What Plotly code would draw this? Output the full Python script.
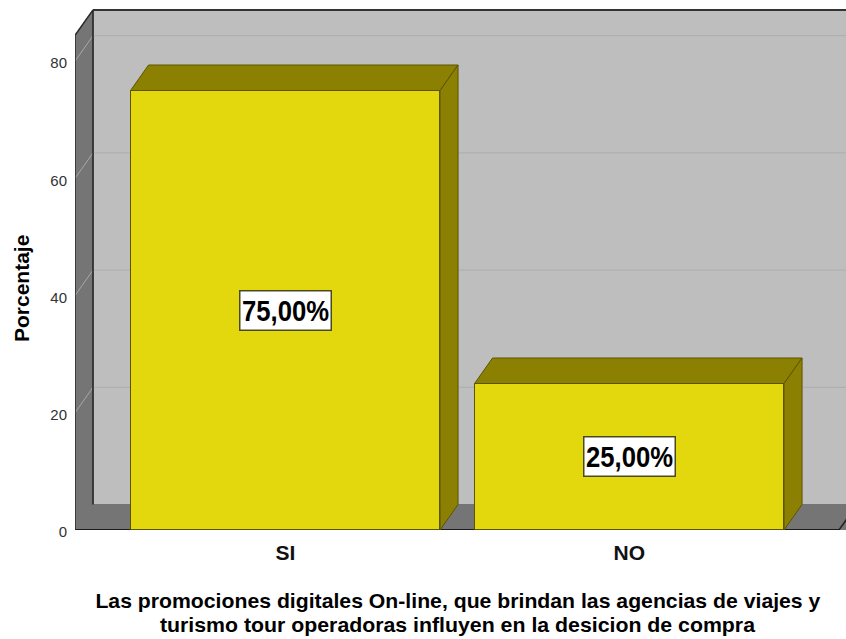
import plotly.graph_objects as go

categories = ["SI", "NO"]
values = [75.0, 25.0]
y_ticks = [0, 20, 40, 60, 80]
x_title_lines = [
    "Las promociones digitales On-line, que brindan las agencias de viajes y",
    "turismo tour operadoras influyen en la desicion de compra",
]
y_title = "Porcentaje"

PX_X = 344.0   # px per category step
PX_Y = 5.86    # px per percentage point
DX = 18 / PX_X
DY = 25.5 / PX_Y
WIDTH = 309.5 / PX_X
CENTER = 285.3
X0 = (75 - CENTER) / PX_X
X1 = (846 - CENTER) / PX_X
XFLOOR = (839 - CENTER) / PX_X
YTOP = 84.4
YMAX = 530 / PX_Y
FONT = "Liberation Sans, Arial, sans-serif"

FRONT = "#e3d70d"
SIDE = "#8c8003"
EDGE = "#5c5400"
WALL = "#757575"
BACK = "#bebebe"
GRID = "#adadad"
xs = list(range(len(categories)))

def poly(px, py, fill, line=None, lw=1, layer="below"):
    path = "M " + " L ".join(f"{a},{b}" for a, b in zip(px, py)) + " Z"
    return dict(type="path", path=path, xref="x", yref="y", fillcolor=fill, layer=layer,
                line=dict(color=line or fill, width=lw))

def seg(x_a, y_a, x_b, y_b, color, w=1, layer="below"):
    return dict(type="line", x0=x_a, y0=y_a, x1=x_b, y1=y_b, xref="x", yref="y", layer=layer,
                line=dict(color=color, width=w))

shapes = [
    poly([X0 + DX, X1 + 1, X1 + 1, X0 + DX], [DY, DY, YTOP + DY, YTOP + DY], BACK),
    poly([X0, X0 + DX, X0 + DX, X0], [0, DY, YTOP + DY, YTOP], WALL),
    poly([X0, X0 + DX, X1 + 1, XFLOOR], [0, DY, DY, 0], WALL),
]
for t in y_ticks[1:]:
    shapes.append(seg(X0 + DX, t + DY, X1, t + DY, GRID))
    shapes.append(seg(X0, t, X0 + DX, t + DY, "#a8a8a8"))
shapes += [
    seg(X0, 0, XFLOOR, 0, "#1c1c1c", 2),
    seg(X0, 0, X0, YTOP, "#2a2a2a", 1.5),
    seg(X0, YTOP, X0 + DX, YTOP + DY, "#2a2a2a", 1.5),
    seg(X0 + DX, DY, X0 + DX, YTOP + DY, "#222222", 1.5),
    seg(X0 + DX, YTOP + DY, X1, YTOP + DY, "#333333", 2),
    seg(XFLOOR, 0, XFLOOR + DX, DY, "#222222", 1.5),
]

fig = go.Figure()
fig.add_trace(go.Bar(x=xs, y=values, width=WIDTH, marker=dict(color=FRONT, line=dict(color=EDGE, width=1)),
                     hoverinfo="skip", showlegend=False))

for x, v in zip(xs, values):
    l, r = x - WIDTH / 2, x + WIDTH / 2
    fig.add_trace(go.Scatter(x=[l, r, r + DX, l + DX, l], y=[v, v, v + DY, v + DY, v], mode="lines",
                             fill="toself", fillcolor=SIDE, line=dict(color=EDGE, width=1),
                             hoverinfo="skip", showlegend=False))
    fig.add_trace(go.Scatter(x=[r, r + DX, r + DX, r, r], y=[0, DY, v + DY, v, 0], mode="lines",
                             fill="toself", fillcolor=SIDE, line=dict(color=EDGE, width=1),
                             hoverinfo="skip", showlegend=False))

value_labels = [f"{v:.2f}%".replace(".", ",") for v in values]
annotations = [
    dict(x=x, y=v / 2, xref="x", yref="y", showarrow=False, text=t, width=90, height=38,
         font=dict(family=FONT, size=30, color="#000000", weight="bold"),
         bgcolor="#ffffff", bordercolor="#4a4a20", borderwidth=1.5, borderpad=0)
    for x, v, t in zip(xs, values, value_labels)
]
# axis titles: placed in paper space so they sit where the reference has them
PLOT_W, PLOT_H = 771.0, 530.0
annotations.append(dict(xref="paper", yref="paper", x=(21 - 75) / PLOT_W, y=(530 - 289) / PLOT_H,
                        text=y_title, textangle=-90, showarrow=False, xanchor="center", yanchor="middle",
                        font=dict(family=FONT, size=21, color="#000000", weight="bold")))
for line, py in zip(x_title_lines, [600.5, 624]):
    annotations.append(dict(xref="paper", yref="paper", x=(457.5 - 75) / PLOT_W, y=(530 - py) / PLOT_H,
                            text=line, showarrow=False, xanchor="center", yanchor="middle",
                            font=dict(family=FONT, size=21, color="#000000", weight="bold")))

fig.update_layout(
    width=846, height=639,
    margin=dict(l=75, r=0, t=0, b=109),
    paper_bgcolor="#ffffff", plot_bgcolor="#ffffff",
    bargap=0, shapes=shapes, annotations=annotations, showlegend=False,
    font=dict(family=FONT, color="#111111"),
    xaxis=dict(range=[X0, X1], tickmode="array", tickvals=xs, ticktext=categories,
               tickfont=dict(size=21, color="#111111", family=FONT, weight="bold"),
               showgrid=False, zeroline=False, showline=False, ticks="outside", ticklen=4,
               tickcolor="rgba(0,0,0,0)"),
    yaxis=dict(range=[0, YMAX], tickmode="array", tickvals=y_ticks, showgrid=False, zeroline=False, showline=False,
               ticks="outside", ticklen=4, tickcolor="rgba(0,0,0,0)", ticklabelshift=2,
               tickfont=dict(size=15, color="#333333", family=FONT)),
)

fit = """
document.body.style.margin='0';document.body.style.overflow='hidden';
var gd=document.getElementById('{plot_id}');
var widths={'75,00%':87,'25,00%':87,'Las promociones digitales On-line, que brindan las agencias de viajes y':725,
'turismo tour operadoras influyen en la desicion de compra':595};
function fit(){document.querySelectorAll('.annotation-text').forEach(function(t){
 var w=widths[t.textContent]; if(w){t.setAttribute('textLength',w);t.setAttribute('lengthAdjust','spacingAndGlyphs');}
});}
fit(); gd.on('plotly_afterplot',fit); setTimeout(fit,50);
"""
fig.write_html("out.html", config={"displayModeBar": False}, post_script=fit)
